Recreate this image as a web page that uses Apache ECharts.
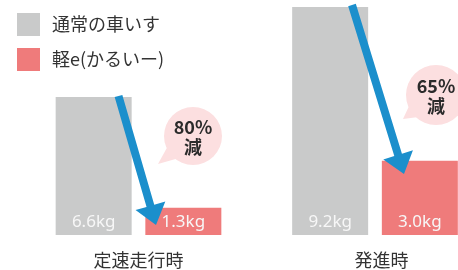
<!DOCTYPE html>
<html>
<head>
<meta charset="utf-8">
<script src="https://cdn.jsdelivr.net/npm/echarts@6/dist/echarts.min.js"></script>
<style>
  html, body { margin: 0; padding: 0; background: #fff; }
  #chart { width: 458px; height: 270px; }
</style>
</head>
<body>
<div id="chart"></div>
<script>
// データ
const groups = ['定速走行時', '発進時'];
const normalName = '通常の車いす';
const karuiName = '軽e(かるいー)';
const normalWeights = [6.6, 9.2];
const karuiWeights = [1.3, 3.0];
const reductions = ['80%', '65%'];

const FONT = '"Noto Sans CJK JP", "Noto Sans", sans-serif';
const NUM_FONT = '"Noto Sans", "Noto Sans CJK JP", sans-serif';
const GRAY = '#c9caca';
const PINK = '#ef7b7b';
const BLUE = '#1b8fcc';
const BUBBLE = '#fcdfe0';

// グループごとの枠（各グループでスケールが違う）
const grids = [
    { left: 55, width: 167, top: 97, bottom: 35 },
    { left: 292, width: 166, top: 7, bottom: 35 }
];

// 矢印・吹き出しの位置（注記）
const arrows = [
    { from: [118.5, 96], to: [156, 225] },
    { from: [352, 5], to: [404, 174] }
];
const bubbles = [
    { c: [193, 136], r: 29, tail: [158, 164] },
    { c: [436, 95], r: 30, tail: [403, 119] }
];

function arrowPoints(s, t, w, hl, hw) {
    const dx = t[0] - s[0], dy = t[1] - s[1];
    const len = Math.sqrt(dx * dx + dy * dy);
    const ux = dx / len, uy = dy / len;
    const nx = -uy, ny = ux;
    const bx = t[0] - ux * hl, by = t[1] - uy * hl;
    return [
        [s[0] + nx * w / 2, s[1] + ny * w / 2],
        [bx + nx * w / 2, by + ny * w / 2],
        [bx + nx * hw / 2, by + ny * hw / 2],
        [t[0], t[1]],
        [bx - nx * hw / 2, by - ny * hw / 2],
        [bx - nx * w / 2, by - ny * w / 2],
        [s[0] - nx * w / 2, s[1] - ny * w / 2]
    ];
}

function tailPoints(b) {
    const a = Math.atan2(b.tail[1] - b.c[1], b.tail[0] - b.c[0]);
    const spread = 0.38;
    return [
        [b.c[0] + Math.cos(a - spread) * b.r * 0.85, b.c[1] + Math.sin(a - spread) * b.r * 0.85],
        b.tail,
        [b.c[0] + Math.cos(a + spread) * b.r * 0.85, b.c[1] + Math.sin(a + spread) * b.r * 0.85]
    ];
}

const graphics = [];
bubbles.forEach((b, i) => {
    graphics.push({ type: 'polygon', z: 100, shape: { points: tailPoints(b) }, style: { fill: BUBBLE } });
    graphics.push({ type: 'circle', z: 100, shape: { cx: b.c[0], cy: b.c[1], r: b.r }, style: { fill: BUBBLE } });
    graphics.push({
        type: 'text', z: 101, x: b.c[0], y: b.c[1] + 1,
        style: {
            text: reductions[i] + '\n減',
            fill: '#2b2b2b',
            font: 'bold 18px ' + FONT,
            lineHeight: 20,
            align: 'center',
            verticalAlign: 'middle'
        }
    });
});
arrows.forEach(a => {
    graphics.push({
        type: 'polygon', z: 110,
        shape: { points: arrowPoints(a.from, a.to, 8, 20, 31) },
        style: { fill: BLUE }
    });
});

const barLabel = {
    show: true,
    position: 'insideBottom',
    distance: 4,
    fontFamily: NUM_FONT,
    fontSize: 17,
    color: '#f7f7f7',
    formatter: p => p.value.toFixed(1) + 'kg'
};

const series = [];
groups.forEach((g, i) => {
    series.push({
        name: normalName, type: 'bar', xAxisIndex: i, yAxisIndex: i,
        data: [normalWeights[i]], barWidth: 76, barGap: '18%',
        itemStyle: { color: GRAY }, label: barLabel, silent: true
    });
    series.push({
        name: karuiName, type: 'bar', xAxisIndex: i, yAxisIndex: i,
        data: [karuiWeights[i]], barWidth: 76, barGap: '18%',
        itemStyle: { color: PINK }, label: barLabel, silent: true
    });
});

const chart = echarts.init(document.getElementById('chart'));
chart.setOption({
    animation: false,
    legend: {
        data: [normalName, karuiName],
        orient: 'vertical',
        left: 12,
        top: 8,
        icon: 'rect',
        itemWidth: 23,
        itemHeight: 23,
        itemGap: 12,
        selectedMode: false,
        textStyle: { fontFamily: FONT, fontSize: 18, color: '#333', padding: [0, 0, 0, 7] }
    },
    grid: grids,
    xAxis: groups.map((g, i) => ({
        type: 'category',
        gridIndex: i,
        data: [g],
        axisLine: { show: false },
        axisTick: { show: false },
        axisLabel: {
            margin: 16,
            fontFamily: FONT,
            fontSize: 18,
            color: '#333',
            padding: i === 1 ? [0, 0, 0, 13] : 0
        }
    })),
    yAxis: groups.map((g, i) => ({
        type: 'value',
        gridIndex: i,
        min: 0,
        max: normalWeights[i],
        show: false
    })),
    series: series,
    graphic: graphics
});
</script>
</body>
</html>
